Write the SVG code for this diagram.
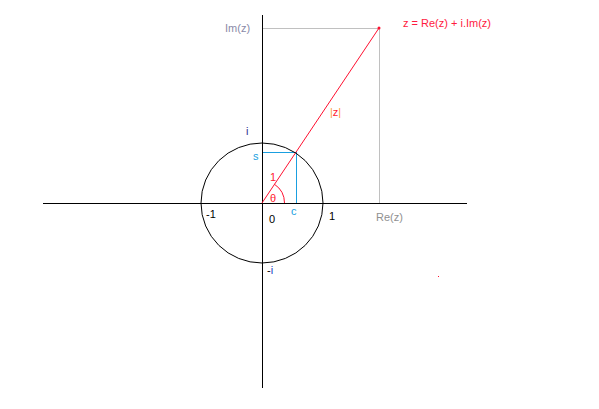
<svg xmlns="http://www.w3.org/2000/svg" width="599" height="409" viewBox="0 0 599 409">
<style>
text{font-family:"Liberation Sans",Arial,sans-serif;font-size:11px}
.ax{stroke:#000;stroke-width:1;fill:none}
.gr{stroke:#c0c0c0;stroke-width:1;fill:none}
.bl{stroke:#1a9fe0;stroke-width:1;fill:none}
.rd{stroke:#ff1030;stroke-width:1;fill:none}
</style>
<rect width="599" height="409" fill="#fff"/>
<g id="connectors">
<line class="ax" x1="43" y1="203.5" x2="467" y2="203.5"/>
<line class="ax" x1="262.5" y1="15" x2="262.5" y2="388"/>
<line class="gr" x1="263" y1="28.5" x2="379" y2="28.5"/>
<line class="gr" x1="379.5" y1="28" x2="379.5" y2="203"/>
<line class="bl" x1="263" y1="152.5" x2="296" y2="152.5"/>
<line class="bl" x1="296.5" y1="152" x2="296.5" y2="203"/>
<line class="rd" x1="262" y1="203" x2="379" y2="28"/>
<path class="rd" d="M284.5 203 A22.5 22.5 0 0 0 274.5 184.3"/>
</g>
<g id="circle"><ellipse class="ax" cx="262" cy="203" rx="61" ry="60"/></g>
<g id="zpoint"><circle cx="379" cy="28" r="1.5" fill="#ff1030"/>
<text x="403" y="27" fill="#ff1a40">z = Re(z) + i.Im(z)</text></g>
<g id="imz"><text x="225" y="32" fill="#8a8aa8">Im(z)</text></g>
<g id="rez"><text x="376" y="221" fill="#909090">Re(z)</text></g>
<g id="modz"><text x="330" y="116" fill="#ff9a40">|<tspan fill="#ff1a30">z</tspan>|</text></g>
<g id="i"><text x="246" y="135" fill="#303090">i</text></g>
<g id="mi"><text x="267" y="274" fill="#000">-<tspan fill="#2040c0">i</tspan></text></g>
<g id="s"><text x="253" y="160" fill="#1a9fe0">s</text></g>
<g id="c"><text x="291" y="215" fill="#1a9fe0">c</text></g>
<g id="one"><text x="270" y="181" fill="#ff1a30">1</text></g>
<g id="theta"><text x="270" y="202" fill="#ff1a30">θ</text></g>
<g id="m1"><text x="206" y="218" fill="#000">-1</text></g>
<g id="zero"><text x="269" y="223" fill="#000">0</text></g>
<g id="p1"><text x="329" y="220" fill="#000">1</text></g>
<g id="dot"><rect x="438" y="276" width="1" height="1" fill="#ff1030"/></g>
</svg>
